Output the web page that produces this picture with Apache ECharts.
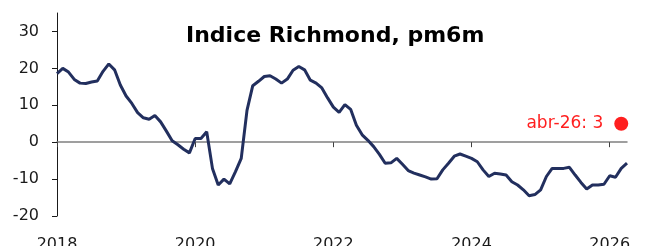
<!DOCTYPE html>
<html>
<head>
<meta charset="utf-8">
<script src="https://cdn.jsdelivr.net/npm/echarts@6/dist/echarts.min.js"></script>
<style>
  html, body { margin: 0; padding: 0; background: #ffffff; }
  #chart { width: 650px; height: 246px; }
</style>
</head>
<body>
<div id="chart"></div>
<script>
// Indice Richmond, pm6m — monthly values from Jan 2018 to Apr 2026
var startYear = 2018;
var richmond = [
  18.6, 20.0, 19.0, 17.0, 16.0, 15.9, 16.3, 16.6, 19.2, 21.2, 19.6, 15.5,   // 2018
  12.5, 10.5, 8.0, 6.6, 6.2, 7.2, 5.5, 3.0, 0.4, -0.7, -1.9, -2.9,          // 2019
  1.0, 1.0, 2.8, -7.1, -11.6, -10.0, -11.3, -8.0, -4.4, 8.6, 15.3, 16.5,    // 2020
  17.8, 18.0, 17.1, 16.0, 17.1, 19.5, 20.5, 19.6, 16.8, 16.0, 14.7, 12.0,   // 2021
  9.5, 8.1, 10.2, 8.9, 4.6, 2.0, 0.5, -1.2, -3.3, -5.7, -5.6, -4.4,         // 2022
  -6.0, -7.7, -8.4, -8.9, -9.4, -10.0, -9.9, -7.5, -5.7, -3.8, -3.2, -3.8,  // 2023
  -4.4, -5.3, -7.5, -9.3, -8.4, -8.6, -8.9, -10.7, -11.6, -12.9, -14.5, -14.2, // 2024
  -12.9, -9.3, -7.1, -7.1, -7.1, -6.8, -8.9, -10.9, -12.7, -11.6, -11.6, -11.4, // 2025
  -9.1, -9.5, -7.1, -5.7                                                     // 2026
];
var yearTicks = [2018, 2020, 2022, 2024, 2026];
var valueTicks = [-20, -10, 0, 10, 20, 30];
var lastPoint = [2026 + 2 / 12, 5];
var lastLabel = 'abr-26: 3';
var titleText = 'Indice Richmond, pm6m';

var lineData = richmond.map(function (v, i) { return [startYear + i / 12, v]; });
var xMax = startYear + (richmond.length - 1) / 12;

var FONT = 'DejaVu Sans';
var NAVY = '#222f5e';
var RED = '#ff1f1f';

var chart = echarts.init(document.getElementById('chart'), null, { renderer: 'canvas' });
chart.setOption({
  animation: false,
  backgroundColor: '#ffffff',
  title: {
    text: titleText,
    left: 186,
    top: 25,
    padding: 0,
    textStyle: { fontFamily: FONT, fontWeight: 'bold', fontSize: 22, color: '#000000' }
  },
  // labels at the bottom are allowed to run off the canvas, as in the source
  grid: { left: 57, right: 23, top: 13, bottom: 30, outerBoundsMode: 'none' },
  xAxis: [{
    type: 'value',
    min: startYear,
    max: xMax,
    axisLine: { onZero: true, lineStyle: { color: '#808080', width: 1.5 } },
    axisTick: { show: true, length: 5, customValues: yearTicks, lineStyle: { color: '#404040', width: 1 } },
    axisLabel: { show: false },
    splitLine: { show: false }
  }, {
    type: 'value',
    min: startYear,
    max: xMax,
    position: 'bottom',
    axisLine: { show: false, onZero: false },
    axisTick: { show: false },
    axisLabel: {
      customValues: yearTicks,
      margin: 21,
      color: '#1a1a1a',
      fontFamily: FONT,
      fontSize: 16,
      formatter: function (v) { return String(Math.round(v)); }
    },
    splitLine: { show: false }
  }],
  yAxis: {
    type: 'value',
    min: -20,
    max: 35,
    axisLine: { show: true, lineStyle: { color: '#1a1a1a', width: 1 } },
    axisTick: { show: true, length: 5, customValues: valueTicks, lineStyle: { color: '#1a1a1a' } },
    axisLabel: {
      customValues: valueTicks,
      margin: 18,
      color: '#1a1a1a',
      fontFamily: FONT,
      fontSize: 16
    },
    splitLine: { show: false }
  },
  series: [{
    type: 'line',
    xAxisIndex: 0,
    data: lineData,
    symbol: 'none',
    smooth: false,
    lineStyle: { color: NAVY, width: 3 },
    z: 3
  }, {
    type: 'scatter',
    xAxisIndex: 0,
    data: [lastPoint],
    symbolSize: 14,
    itemStyle: { color: RED, opacity: 1 },
    label: {
      show: true,
      position: 'left',
      distance: 11,
      formatter: lastLabel,
      color: RED,
      fontFamily: FONT,
      fontSize: 17
    },
    z: 4
  }]
});
</script>
</body>
</html>
